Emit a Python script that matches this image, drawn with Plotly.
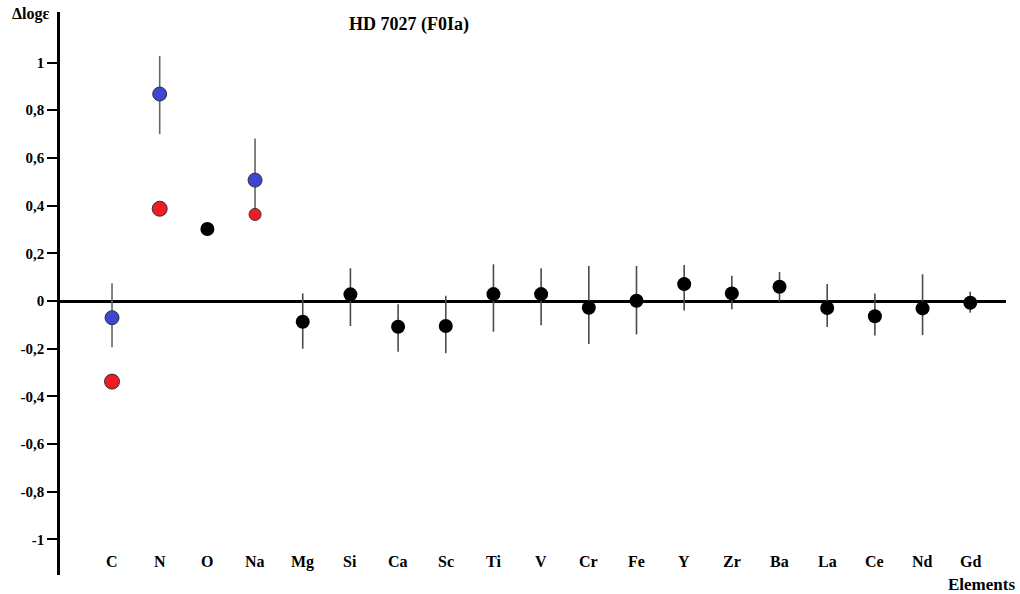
import plotly.graph_objects as go

elements = ["C", "N", "O", "Na", "Mg", "Si", "Ca", "Sc", "Ti", "V", "Cr",
            "Fe", "Y", "Zr", "Ba", "La", "Ce", "Nd", "Gd"]

# Blue series (with error bars)
blue_el = ["C", "N", "Na"]
blue_val = [-0.070, 0.868, 0.507]
blue_err_plus = [0.144, 0.160, 0.175]
blue_err_minus = [0.124, 0.168, 0.145]

# Red series (no error bars)
red_el = ["C", "N", "Na"]
red_val = [-0.338, 0.387, 0.363]

# Black series
black_el = ["O", "Mg", "Si", "Ca", "Sc", "Ti", "V", "Cr", "Fe", "Y", "Zr",
            "Ba", "La", "Ce", "Nd", "Gd"]
black_val = [0.302, -0.087, 0.028, -0.108, -0.105, 0.029, 0.029, -0.028,
             0.001, 0.071, 0.032, 0.060, -0.029, -0.064, -0.031, -0.007]
black_err_plus = [0.0, 0.119, 0.109, 0.094, 0.127, 0.125, 0.108, 0.175,
                  0.146, 0.080, 0.074, 0.062, 0.100, 0.095, 0.143, 0.046]
black_err_minus = [0.0, 0.113, 0.133, 0.105, 0.114, 0.158, 0.131, 0.152,
                   0.141, 0.111, 0.067, 0.063, 0.080, 0.081, 0.112, 0.042]

y_tick_vals = [1, 0.8, 0.6, 0.4, 0.2, 0, -0.2, -0.4, -0.6, -0.8, -1]
y_tick_text = ["1", "0,8", "0,6", "0,4", "0,2", "0", "-0,2", "-0,4",
               "-0,6", "-0,8", "-1"]

title_text = "HD 7027 (F0Ia)"
y_label = "Δlogε"
x_label = "Elements"

idx = {e: i for i, e in enumerate(elements)}
FONT = "Liberation Serif"

fig = go.Figure()

fig.add_trace(go.Scatter(
    x=[idx[e] for e in black_el], y=black_val, mode="markers",
    marker=dict(color="black", size=14, opacity=1, line=dict(width=0)),
    error_y=dict(type="data", symmetric=False, array=black_err_plus,
                 arrayminus=black_err_minus, color="#4a4a4a",
                 thickness=1.6, width=0),
    showlegend=False, hoverinfo="skip",
))

fig.add_trace(go.Scatter(
    x=[idx[e] for e in blue_el], y=blue_val, mode="markers",
    marker=dict(color="#3c46d0", size=14, opacity=1,
                line=dict(width=1, color="#333333")),
    error_y=dict(type="data", symmetric=False, array=blue_err_plus,
                 arrayminus=blue_err_minus, color="#666666",
                 thickness=1.6, width=0),
    showlegend=False, hoverinfo="skip",
))

fig.add_trace(go.Scatter(
    x=[idx[e] for e in red_el], y=red_val, mode="markers",
    marker=dict(color="#ee1c24", size=[15, 15, 12], opacity=1,
                line=dict(width=1, color="#333333")),
    showlegend=False, hoverinfo="skip",
))

annotations = []
for e in elements:
    annotations.append(dict(
        x=idx[e], y=-1.094, xref="x", yref="y", text=e, showarrow=False,
        font=dict(family=FONT, size=16, color="black", weight="bold"),
        xanchor="center", yanchor="middle",
    ))
annotations.append(dict(
    x=(409 - 60) / 946, y=(575 - 24) / 563, xref="paper", yref="paper",
    text=title_text, showarrow=False,
    font=dict(family=FONT, size=18, color="black", weight="bold"),
    xanchor="center", yanchor="middle",
))
annotations.append(dict(
    x=(30 - 60) / 946, y=(575 - 14) / 563, xref="paper", yref="paper",
    text=y_label, showarrow=False,
    font=dict(family=FONT, size=16, color="black", weight="bold"),
    xanchor="center", yanchor="middle",
))
annotations.append(dict(
    x=(981 - 60) / 946, y=(575 - 584) / 563, xref="paper", yref="paper",
    text=x_label, showarrow=False,
    font=dict(family=FONT, size=17, color="black", weight="bold"),
    xanchor="center", yanchor="middle",
))

fig.update_layout(
    width=1020, height=594,
    margin=dict(l=60, r=14, t=12, b=19),
    paper_bgcolor="white", plot_bgcolor="white",
    annotations=annotations,
    xaxis=dict(
        range=[-1.091, 18.75], showgrid=False, zeroline=False,
        showline=False, showticklabels=False, ticks="",
    ),
    yaxis=dict(
        range=[-1.149, 1.212], showgrid=False,
        zeroline=True, zerolinecolor="black", zerolinewidth=2.5,
        showline=True, linecolor="black", linewidth=2.5,
        ticks="outside", ticklen=10, tickwidth=2, tickcolor="black",
        tickvals=y_tick_vals, ticktext=y_tick_text,
        tickfont=dict(family=FONT, size=15, color="black", weight="bold"),
    ),
)

fig.write_html(
    "out.html",
    config={"displayModeBar": False},
    post_script="document.body.style.margin='0';"
                "document.body.style.overflow='hidden';",
)
